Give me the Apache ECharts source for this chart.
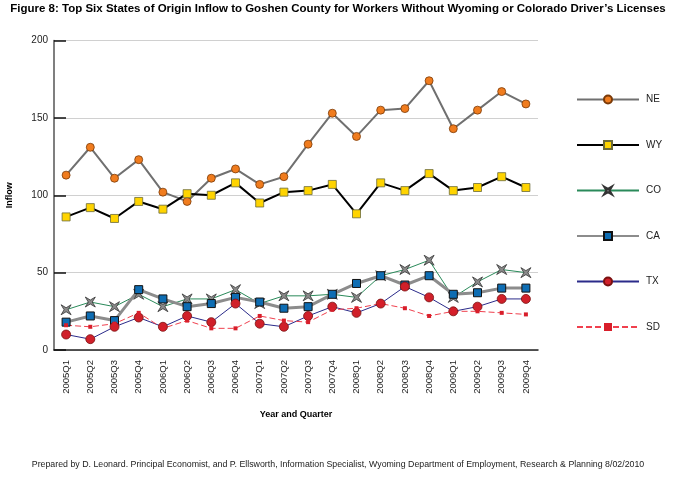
<!DOCTYPE html>
<html><head><meta charset="utf-8">
<script src="https://cdn.jsdelivr.net/npm/echarts@6/dist/echarts.min.js"></script>
<style>html,body{margin:0;padding:0;background:#fff}#c{width:676px;height:477px}</style>
</head><body><div id="c"></div>
<script>
var categories = ['2005Q1','2005Q2','2005Q3','2005Q4','2006Q1','2006Q2','2006Q3','2006Q4','2007Q1','2007Q2','2007Q3','2007Q4','2008Q1','2008Q2','2008Q3','2008Q4','2009Q1','2009Q2','2009Q3','2009Q4'];
var NE = [113,131,111,123,102,96,111,117,107,112,133,153,138,155,156,174,143,155,167,159];
var WY = [86,92,85,96,91,101,100,108,95,102,103,107,88,108,103,114,103,105,112,105];
var CO = [26,31,28,36,28,33,33,39,30,35,35,36,34,48,52,58,34,44,52,50];
var CA = [18,22,19,39,33,28,30,34,31,27,28,36,43,48,42,48,36,37,40,40];
var TX = [10,7,15,21,15,22,18,30,17,15,22,28,24,30,41,34,25,28,33,33];
var SD = [16,15,17,24,14,19,14,14,22,19,18,26,27,30,27,22,25,25,24,23];
var yTicks = [0,50,100,150,200];

var titleText = 'Figure 8: Top Six States of Origin Inflow to Goshen County for Workers Without Wyoming or Colorado Driver\u2019s Licenses';
var footerText = 'Prepared by D. Leonard. Principal Economist, and P. Ellsworth, Information Specialist, Wyoming Department of Employment, Research & Planning 8/02/2010';

var xStar = 'path://M0,0 L5,3 L10,0 L7,5 L10,10 L5,7 L0,10 L3,5 Z';
var FONT = 'Liberation Sans';

var chart = echarts.init(document.getElementById('c'));
chart.setOption({
  animation: false,
  backgroundColor: '#fff',
  textStyle: {fontFamily: FONT},
  title: [
    {text: titleText, left: 'center', top: -2, textStyle: {fontFamily: FONT, fontSize: 11.5, fontWeight: 'bold', color: '#000'}},
    {text: footerText, left: 'center', top: 455, textStyle: {fontFamily: FONT, fontSize: 8.8, fontWeight: 'normal', color: '#222'}}
  ],
  legend: {
    orient: 'vertical', left: 571, top: 89.5,
    itemWidth: 62, itemHeight: 10, itemGap: 35.5,
    textStyle: {fontFamily: FONT, fontSize: 10, color: '#222', padding: [0,0,0,2]},
    data: ['NE','WY','CO','CA','TX','SD']
  },
  grid: {left: 54, right: 138, top: 40.5, bottom: 127, outerBoundsMode: 'none', containLabel: false},
  xAxis: {
    type: 'category', data: categories, boundaryGap: true,
    name: 'Year and Quarter', nameLocation: 'middle', nameGap: 60,
    nameTextStyle: {fontFamily: FONT, fontSize: 9, fontWeight: 'bold', color: '#000'},
    axisLine: {lineStyle: {color: '#222', width: 1.5}},
    axisTick: {inside: true, length: 8, interval: 0, lineStyle: {color: '#222'}},
    axisLabel: {rotate: 90, interval: 0, fontSize: 9.5, color: '#222', margin: 10}
  },
  yAxis: {
    type: 'value', min: yTicks[0], max: yTicks[yTicks.length-1], interval: 50,
    name: 'Inflow', nameLocation: 'middle', nameGap: 40,
    nameTextStyle: {fontFamily: FONT, fontSize: 9, fontWeight: 'bold', color: '#000'},
    axisLine: {show: true, lineStyle: {color: '#555', width: 1.5}},
    axisTick: {show: true, inside: true, length: 12, lineStyle: {color: '#111', width: 1.5}},
    axisLabel: {fontSize: 10, color: '#222', margin: 6},
    splitLine: {lineStyle: {color: '#d0d0d0', width: 1}}
  },
  series: [
    {name: 'NE', type: 'line', data: NE, symbol: 'circle', symbolSize: 8,
     lineStyle: {color: '#707070', width: 2},
     itemStyle: {color: '#f07c1e', borderColor: '#7a3a08', borderWidth: 0.8}},
    {name: 'WY', type: 'line', data: WY, symbol: 'rect', symbolSize: 8,
     lineStyle: {color: '#000', width: 2},
     itemStyle: {color: '#ffd400', borderColor: '#6b6b3a', borderWidth: 0.8}},
    {name: 'CO', type: 'line', data: CO, symbol: xStar, symbolSize: 10,
     lineStyle: {color: '#2a8a5a', width: 1},
     itemStyle: {color: '#8a8a8a', borderColor: '#333', borderWidth: 0.8}},
    {name: 'CA', type: 'line', data: CA, symbol: 'rect', symbolSize: 8,
     lineStyle: {color: '#8c8c8c', width: 3},
     itemStyle: {color: '#0e6db3', borderColor: '#111', borderWidth: 1}},
    {name: 'TX', type: 'line', data: TX, symbol: 'circle', symbolSize: 9,
     lineStyle: {color: '#2b2b8a', width: 1},
     itemStyle: {color: '#d0202a', borderColor: '#7a1010', borderWidth: 0.8}},
    {name: 'SD', type: 'line', data: SD, symbol: 'rect', symbolSize: 4,
     lineStyle: {color: '#f0404e', width: 1, type: [6,3]},
     itemStyle: {color: '#d81e2a', borderWidth: 0}}
  ]
});
</script></body></html>
